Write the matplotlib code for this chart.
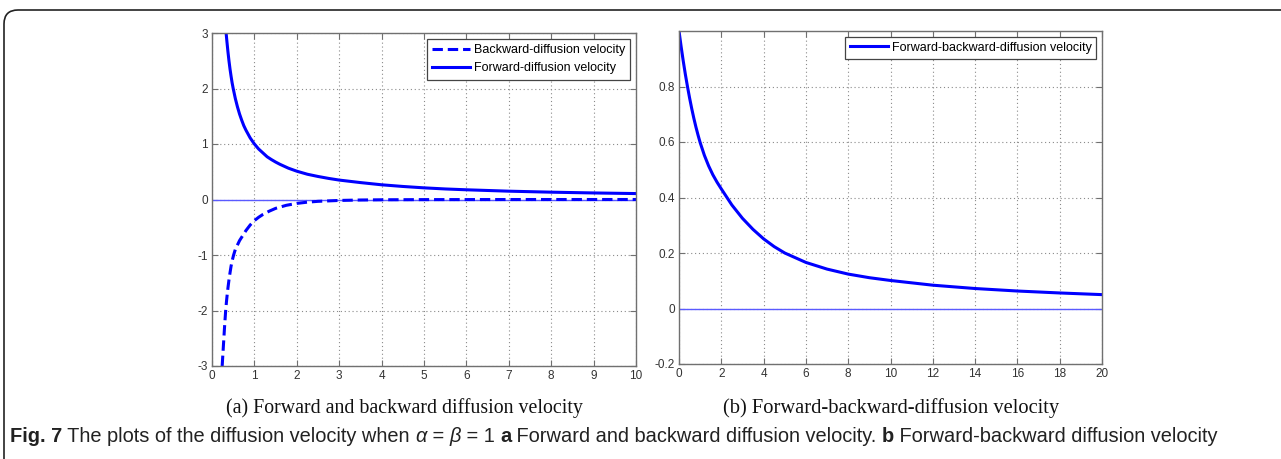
import matplotlib
matplotlib.use("Agg")
import matplotlib.pyplot as plt
from matplotlib.path import Path
from matplotlib.patches import PathPatch
from matplotlib.transforms import IdentityTransform

plt.rcParams['font.family'] = ['Liberation Sans', 'DejaVu Sans']
plt.rcParams['axes.unicode_minus'] = False

# (a) forward diffusion velocity (solid)
fwd_x = [0.333, 0.35, 0.375, 0.4, 0.425, 0.45, 0.475, 0.5, 0.55, 0.6, 0.65, 0.7, 0.75,
         0.8, 0.9, 1.0, 1.1, 1.2, 1.3, 1.4, 1.5, 1.6, 1.8, 2.0, 2.25, 2.5, 2.75, 3.0,
         3.5, 4.0, 4.5, 5.0, 5.5, 6.0, 7.0, 8.0, 9.0, 10.0]
fwd_y = [3.0, 2.86, 2.67, 2.5, 2.35, 2.22, 2.1, 2.0, 1.82, 1.67, 1.54, 1.43, 1.33,
         1.25, 1.11, 1.0, 0.91, 0.84, 0.77, 0.72, 0.675, 0.635, 0.565, 0.51, 0.455,
         0.415, 0.38, 0.35, 0.305, 0.265, 0.235, 0.21, 0.19, 0.175, 0.15, 0.132,
         0.118, 0.107]

# (a) backward diffusion velocity (dashed)
bwd_x = [0.24, 0.25, 0.26, 0.27, 0.28, 0.29, 0.30, 0.32, 0.34, 0.36, 0.38, 0.40, 0.425,
         0.45, 0.48, 0.51, 0.55, 0.6, 0.65, 0.7, 0.75, 0.8, 0.9, 1.0, 1.1, 1.2, 1.35,
         1.5, 1.75, 2.0, 2.25, 2.5, 3.0, 3.5, 4.0, 5.0, 7.0, 10.0]
bwd_y = [-3.0, -2.87, -2.75, -2.62, -2.5, -2.37, -2.25, -2.03, -1.85, -1.7, -1.57,
         -1.45, -1.32, -1.2, -1.09, -1.0, -0.9, -0.82, -0.74, -0.68, -0.62, -0.56,
         -0.46, -0.38, -0.32, -0.27, -0.21, -0.16, -0.105, -0.07, -0.048, -0.033,
         -0.017, -0.009, -0.005, -0.002, -0.0005, 0.0]

# (b) forward-backward diffusion velocity
fb_x = [0, 0.1, 0.2, 0.3, 0.4, 0.5, 0.6, 0.7, 0.8, 0.9, 1.0, 1.2, 1.4, 1.6, 1.8, 2.0,
        2.5, 3.0, 3.5, 4.0, 4.5, 5.0, 6.0, 7.0, 8.0, 9.0, 10.0, 12.0, 14.0, 16.0, 18.0,
        20.0]
fb_y = [1.0, 0.944, 0.892, 0.844, 0.800, 0.759, 0.721, 0.686, 0.654, 0.625, 0.598,
        0.552, 0.514, 0.482, 0.455, 0.431, 0.373, 0.325, 0.285, 0.251, 0.223, 0.200,
        0.166, 0.142, 0.124, 0.111, 0.101, 0.084, 0.072, 0.063, 0.056, 0.050]

W, H = 1281, 459
fig = plt.figure(figsize=(W / 100, H / 100), dpi=100)

# frame round the figure, rounded top-left corner (pixel coordinates)
r = 14
fx, fy = 4, H - 10
verts = [(fx, -10), (fx, fy - r), (fx, fy), (fx + r, fy), (W + 10, fy)]
codes = [Path.MOVETO, Path.LINETO, Path.CURVE3, Path.CURVE3, Path.LINETO]
fig.patches.append(PathPatch(Path(verts, codes), transform=IdentityTransform(),
                             fc="none", ec="#222222", lw=1.2))

blue = "#0000ff"
zero_blue = "#5a5aff"
grid_kw = dict(color="#8a8a8a", linestyle=(0, (1, 2.5)), linewidth=0.8)


def style(ax):
    for s in ax.spines.values():
        s.set_color("#707070")
        s.set_linewidth(1.0)
    ax.tick_params(direction="in", length=4, width=0.8, colors="#707070",
                   labelcolor="#333333", labelsize=8.5, top=True, right=True, pad=3)
    ax.grid(True, **grid_kw)
    ax.set_axisbelow(True)


leg_kw = dict(loc="upper right", fontsize=9, fancybox=False, framealpha=1,
              edgecolor="#444444", borderaxespad=0.45, handlelength=3.0,
              handletextpad=0.3)

ax1 = fig.add_axes([212 / W, 1 - 366 / H, 424 / W, 333 / H])
ax1.axhline(0, color=zero_blue, lw=1.0)
ax1.plot(bwd_x, bwd_y, color=blue, lw=2.2, linestyle=(0, (3.4, 1.6)),
         label="Backward-diffusion velocity")
ax1.plot(fwd_x, fwd_y, color=blue, lw=2.2, label="Forward-diffusion velocity")
ax1.set_xlim(0, 10)
ax1.set_ylim(-3, 3)
ax1.set_xticks(range(0, 11))
ax1.set_yticks(range(-3, 4))
style(ax1)
leg1 = ax1.legend(borderpad=0.45, labelspacing=0.45, **leg_kw)
leg1.get_frame().set_linewidth(0.9)

ax2 = fig.add_axes([679 / W, 1 - 364 / H, 423 / W, 333 / H])
ax2.axhline(0, color=zero_blue, lw=1.0)
ax2.plot(fb_x, fb_y, color=blue, lw=2.2, label="Forward-backward-diffusion velocity")
ax2.set_xlim(0, 20)
ax2.set_ylim(-0.2, 1.0)
ax2.set_xticks(range(0, 21, 2))
ax2.set_yticks([-0.2, 0, 0.2, 0.4, 0.6, 0.8])
ax2.set_yticklabels(["-0.2", "0", "0.2", "0.4", "0.6", "0.8"])
style(ax2)
leg2 = ax2.legend(borderpad=0.4, **leg_kw)
leg2.get_frame().set_linewidth(0.9)

# sub captions
serif = ["Liberation Serif", "DejaVu Serif"]
fig.text(404 / W, 1 - 408 / H, "(a) Forward and backward diffusion velocity",
         family=serif, fontsize=14.3, ha="center", va="center", color="#111111")
fig.text(891 / W, 1 - 408 / H, "(b) Forward-backward-diffusion velocity",
         family=serif, fontsize=14.8, ha="center", va="center", color="#111111")

# figure caption built from pieces
pieces = [("Fig. 7", "bold", "normal"),
          (" The plots of the diffusion velocity when ", "normal", "normal"),
          ("α", "normal", "italic"), (" = ", "normal", "normal"),
          ("β", "normal", "italic"), (" = 1 ", "normal", "normal"),
          ("a", "bold", "normal"),
          (" Forward and backward diffusion velocity. ", "normal", "normal"),
          ("b", "bold", "normal"),
          (" Forward-backward diffusion velocity", "normal", "normal")]
renderer = fig.canvas.get_renderer()
x = 10
for txt, wt, st in pieces:
    t = fig.text(x / W, 1 - 437 / H, txt, fontsize=14.45,
                 weight=wt, style=st, ha="left", va="center", color="#222222")
    x += t.get_window_extent(renderer).width

fig.savefig("out.png", dpi=100)
